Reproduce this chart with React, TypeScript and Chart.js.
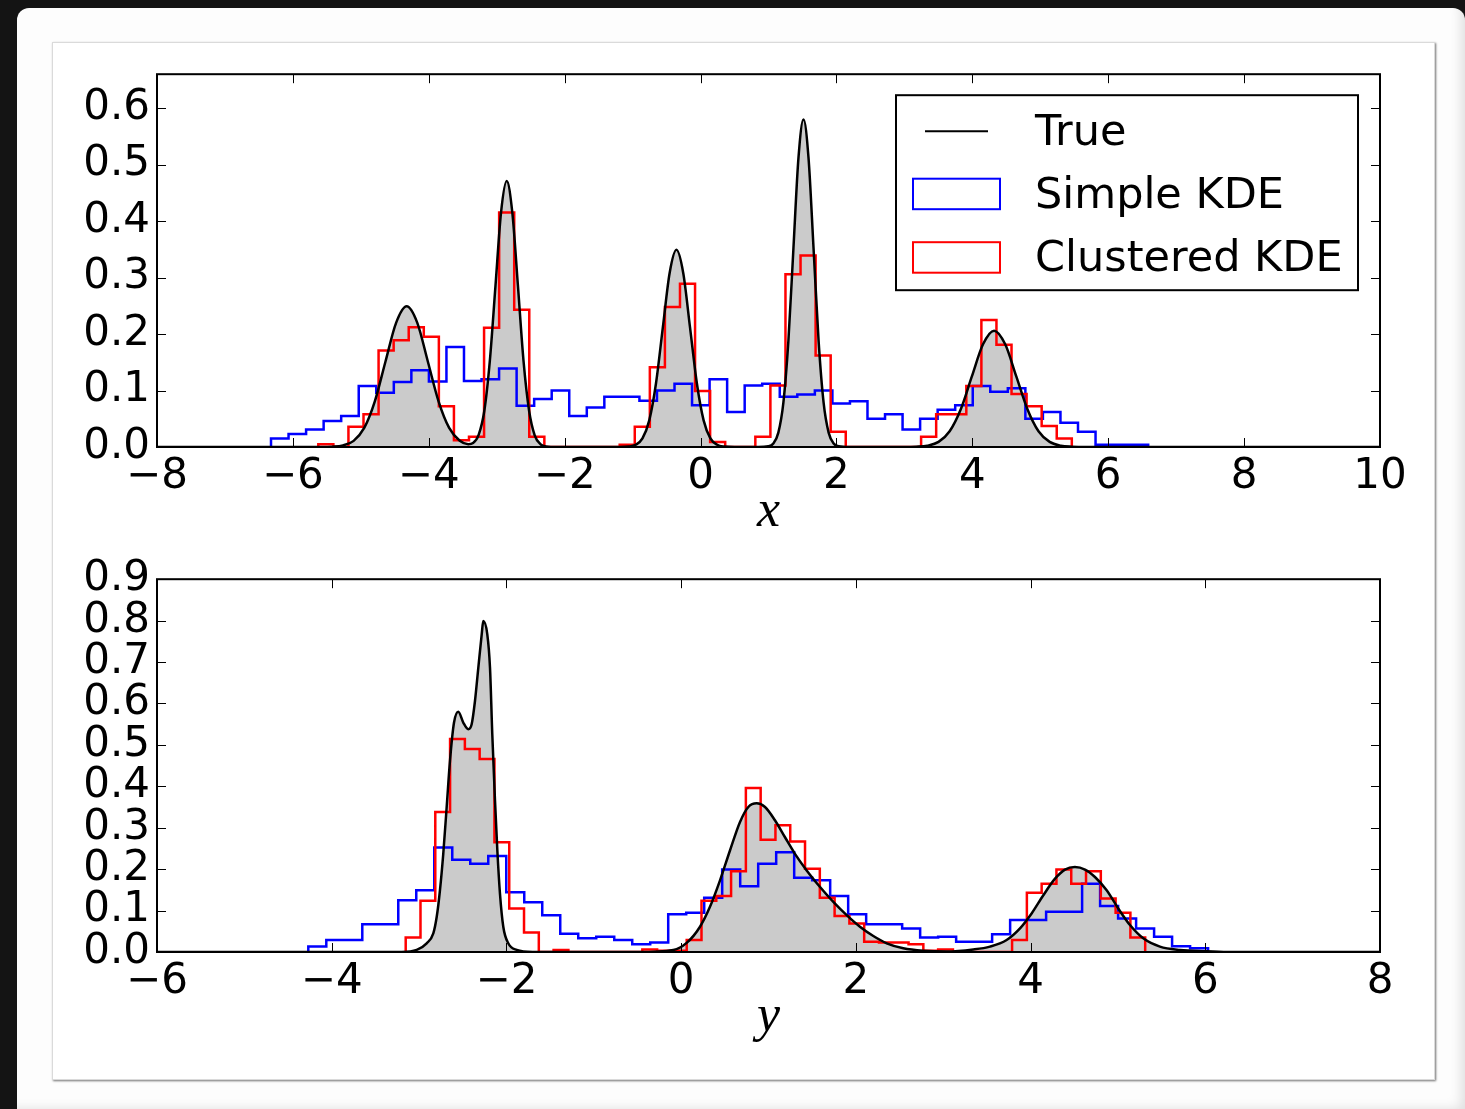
import React, { useEffect, useRef } from "react";
import { Chart, registerables } from "chart.js";

Chart.register(...registerables);

// ---------------- Top panel (x) ----------------
const X_TICKS_TOP = [-8, -6, -4, -2, 0, 2, 4, 6, 8, 10];
const Y_TICKS_TOP = [0, 0.1, 0.2, 0.3, 0.4, 0.5, 0.6];
const X_MIN_TOP = -8;
const X_MAX_TOP = 10;
const Y_MAX_TOP = 0.66;

const TRUE_TOP_X = [
  -8, -5.6, -5.419, -5.263, -5.106, -4.95, -4.794, -4.638, -4.481, -4.325, -4.169, -4.013, -3.856, -3.7, -3.544,
  -3.42, -3.348, -3.266, -3.183, -3.101, -3.018, -2.936, -2.853, -2.771, -2.688, -2.606, -2.523, -2.441, -2.358,
  -2.276, -2.1, -1.2, -1.055, -0.955, -0.855, -0.755, -0.655, -0.555, -0.455, -0.355, -0.255, -0.155, -0.055,
  0.045, 0.145, 0.245, 0.345, 0.5, 0.85, 0.997, 1.071, 1.145, 1.219, 1.293, 1.367, 1.441, 1.515, 1.589, 1.663,
  1.737, 1.811, 1.885, 1.959, 2.033, 2.2, 3.0, 3.176, 3.339, 3.503, 3.666, 3.83, 3.993, 4.157, 4.32, 4.484, 4.647,
  4.811, 4.974, 5.138, 5.301, 5.465, 5.7, 10,
];
const TRUE_TOP_Y = [
  0, 0, 0.0005, 0.0028, 0.0109, 0.0337, 0.0808, 0.151, 0.2197, 0.249, 0.2197, 0.151, 0.0808, 0.0337, 0.011,
  0.005, 0.0071, 0.0215, 0.0637, 0.153, 0.2857, 0.4157, 0.471, 0.4157, 0.2857, 0.153, 0.0637, 0.0207, 0.0052,
  0.001, 0, 0, 0.0008, 0.0039, 0.0153, 0.0472, 0.1133, 0.2117, 0.308, 0.349, 0.308, 0.2117, 0.1133,
  0.0472, 0.0153, 0.0039, 0.0008, 0, 0, 0.0013, 0.0064, 0.0255, 0.0785, 0.1883, 0.3518, 0.5119, 0.58, 0.5119, 0.3518,
  0.1883, 0.0785, 0.0255, 0.0064, 0.0013, 0, 0, 0.0005, 0.0023, 0.009, 0.0279, 0.0669, 0.1249, 0.1818, 0.206, 0.1818, 0.1249,
  0.0669, 0.0279, 0.009, 0.0023, 0.0005, 0, 0,
];

const SIMPLE_TOP_START = -6.322;
const SIMPLE_TOP_WIDTH = 0.2582;
const SIMPLE_TOP = [
  0.015, 0.023, 0.031, 0.046, 0.055, 0.108, 0.096, 0.115, 0.136, 0.116,
  0.177, 0.117, 0.12, 0.139, 0.073, 0.085, 0.1, 0.055, 0.07, 0.089,
  0.089, 0.082, 0.1, 0.112, 0.074, 0.12, 0.062, 0.109, 0.112, 0.089,
  0.093, 0.1, 0.077, 0.081, 0.05, 0.058, 0.031, 0.05, 0.066, 0.074,
  0.108, 0.098, 0.104, 0.05, 0.062, 0.043, 0.027, 0.004, 0.004, 0.004,
];

const CLUSTERED_TOP_START = -5.626;
const CLUSTERED_TOP_WIDTH = 0.2218;
const CLUSTERED_TOP = [
  0.005, 0, 0.036, 0.058, 0.171, 0.189, 0.212, 0.195, 0.072, 0.012,
  0.018, 0.211, 0.415, 0.243, 0.018, 0, 0, 0, 0, 0,
  0.004, 0.036, 0.141, 0.248, 0.289, 0.099, 0.009, 0, 0, 0.018,
  0.109, 0.306, 0.339, 0.162, 0.027, 0, 0, 0, 0, 0,
  0.018, 0.058, 0.058, 0.108, 0.225, 0.181, 0.094, 0.072, 0.037, 0.015,
];

// ---------------- Bottom panel (y) ----------------
const X_TICKS_BOTTOM = [-6, -4, -2, 0, 2, 4, 6, 8];
const Y_TICKS_BOTTOM = [0, 0.1, 0.2, 0.3, 0.4, 0.5, 0.6, 0.7, 0.8, 0.9];
const X_MIN_BOTTOM = -6;
const X_MAX_BOTTOM = 8;
const Y_MAX_BOTTOM = 0.9;

const TRUE_BOTTOM_X = [
  -6, -3.2, -3.027, -2.913, -2.837, -2.798, -2.761, -2.723, -2.684, -2.646, -2.6, -2.551, -2.494, -2.437, -2.398,
  -2.36, -2.322, -2.283, -2.265, -2.219, -2.188, -2.162, -2.131, -2.104, -2.074, -2.036, -1.979, -1.883, -1.7, -0.5,
  -0.09, 0.063, 0.216, 0.33, 0.445, 0.559, 0.674, 0.769, 0.865, 0.96, 1.074, 1.189, 1.303, 1.437, 1.59, 1.742, 1.895,
  2.047, 2.2, 2.353, 2.543, 2.772, 3.04, 3.344, 3.535, 3.726, 3.879, 4.012, 4.146, 4.28, 4.394, 4.508, 4.623, 4.737,
  4.871, 5.004, 5.138, 5.29, 5.481, 5.71, 6.016, 6.3, 8,
];
const TRUE_BOTTOM_Y = [
  0, 0, 0.005, 0.021, 0.045, 0.085, 0.149, 0.237, 0.35, 0.462, 0.554, 0.58, 0.554, 0.538, 0.55,
  0.606, 0.686, 0.767, 0.799, 0.767, 0.686, 0.526, 0.366, 0.245, 0.141, 0.061, 0.021, 0.005, 0, 0,
  0.005, 0.022, 0.061, 0.109, 0.173, 0.245, 0.314, 0.35, 0.359, 0.35, 0.318, 0.277, 0.237, 0.197, 0.157, 0.121, 0.089,
  0.061, 0.0385, 0.021, 0.009, 0.003, 0.001, 0.006, 0.013, 0.029, 0.057, 0.093, 0.137, 0.177, 0.199, 0.205, 0.199, 0.181,
  0.149, 0.105, 0.065, 0.033, 0.013, 0.005, 0.002, 0, 0,
];

const SIMPLE_BOTTOM_START = -4.268;
const SIMPLE_BOTTOM_WIDTH = 0.206;
const SIMPLE_BOTTOM = [
  0.013, 0.029, 0.029, 0.067, 0.067, 0.125, 0.149, 0.252, 0.223, 0.213,
  0.232, 0.144, 0.12, 0.089, 0.044, 0.033, 0.037, 0.029, 0.019, 0.023,
  0.091, 0.095, 0.131, 0.199, 0.159, 0.213, 0.241, 0.179, 0.173, 0.135,
  0.091, 0.067, 0.067, 0.057, 0.035, 0.037, 0.025, 0.025, 0.043, 0.077,
  0.077, 0.097, 0.097, 0.165, 0.111, 0.081, 0.057, 0.037, 0.014, 0.009,
];

const CLUSTERED_BOTTOM_START = -3.153;
const CLUSTERED_BOTTOM_WIDTH = 0.1693;
const CLUSTERED_BOTTOM = [
  0.035, 0.124, 0.338, 0.514, 0.49, 0.466, 0.265, 0.105, 0.047, 0,
  0.005, 0, 0, 0, 0, 0, 0.006, 0.003, 0.003, 0.029,
  0.124, 0.135, 0.195, 0.396, 0.271, 0.306, 0.267, 0.201, 0.131, 0.087,
  0.069, 0.025, 0.023, 0.023, 0.019, 0.003, 0.006, 0, 0, 0,
  0, 0.029, 0.143, 0.165, 0.199, 0.165, 0.195, 0.129, 0.095, 0.035,
];

const LEGEND_LABELS = ["True", "Simple KDE", "Clustered KDE"];

// ---------------- helpers ----------------
function curvePoints(xs: number[], ys: number[]) {
  const n = Math.min(xs.length, ys.length);
  const pts: { x: number; y: number }[] = [];
  for (let i = 0; i < n; i++) pts.push({ x: xs[i], y: ys[i] });
  return pts;
}

function histPoints(start: number, width: number, values: number[]) {
  const pts: { x: number; y: number }[] = [{ x: start, y: 0 }];
  values.forEach((v, i) => pts.push({ x: start + i * width, y: v }));
  const end = start + values.length * width;
  pts.push({ x: end, y: values[values.length - 1] });
  pts.push({ x: end, y: 0 });
  return pts;
}

function fmt(v: number, digits: number) {
  const s = Math.abs(v).toFixed(digits);
  return (v < -1e-9 ? "\u2212" : "") + s;
}

const TICK_FONT = { family: "'DejaVu Sans'", size: 42 };

const mplPlugin = {
  id: "mplFrame",
  afterDatasetsDraw(chart: any, _args: any, opts: any) {
    const { ctx, chartArea: a } = chart;
    const sx = chart.scales.x;
    const sy = chart.scales.y;
    ctx.save();
    ctx.strokeStyle = "#000";
    ctx.lineWidth = 1;
    ctx.beginPath();
    for (const t of opts.xTicks) {
      const p = Math.round(sx.getPixelForValue(t)) + 0.5;
      ctx.moveTo(p, a.bottom);
      ctx.lineTo(p, a.bottom - 9);
      ctx.moveTo(p, a.top);
      ctx.lineTo(p, a.top + 9);
    }
    for (const t of opts.yTicks) {
      const p = Math.round(sy.getPixelForValue(t)) + 0.5;
      ctx.moveTo(a.left, p);
      ctx.lineTo(a.left + 9, p);
      ctx.moveTo(a.right, p);
      ctx.lineTo(a.right - 9, p);
    }
    ctx.stroke();
    ctx.lineWidth = 2;
    ctx.strokeRect(a.left, a.top, a.right - a.left, a.bottom - a.top);

    // axis title
    ctx.fillStyle = "#000";
    ctx.font = "italic 52px 'Liberation Serif'";
    ctx.textAlign = "center";
    ctx.textBaseline = "alphabetic";
    ctx.fillText(opts.title, (a.left + a.right) / 2, a.bottom + 79);

    if (opts.legend) {
      const bx = a.right - 484;
      const by = a.top + 21;
      const bw = 462;
      const bh = 195;
      ctx.fillStyle = "#fff";
      ctx.fillRect(bx, by, bw, bh);
      ctx.lineWidth = 2;
      ctx.strokeStyle = "#000";
      ctx.strokeRect(bx, by, bw, bh);
      ctx.beginPath();
      ctx.moveTo(bx + 29, by + 36);
      ctx.lineTo(bx + 92, by + 36);
      ctx.stroke();
      ctx.strokeStyle = "#0000ff";
      ctx.strokeRect(bx + 17, by + 83.5, 87, 30.5);
      ctx.strokeStyle = "#ff0000";
      ctx.strokeRect(bx + 17, by + 147, 87, 30.5);
      ctx.fillStyle = "#000";
      ctx.font = "43px 'DejaVu Sans'";
      ctx.textAlign = "left";
      ctx.textBaseline = "alphabetic";
      const baselines = [50, 113, 176];
      LEGEND_LABELS.forEach((lab, i) => ctx.fillText(lab, bx + 139, by + baselines[i]));
    }
    ctx.restore();
  },
};

function buildConfig(p: {
  trueX: number[];
  trueY: number[];
  simpleStart: number;
  simpleWidth: number;
  simple: number[];
  clusteredStart: number;
  clusteredWidth: number;
  clustered: number[];
  xMin: number;
  xMax: number;
  yMax: number;
  xTicks: number[];
  yTicks: number[];
  title: string;
  legend: boolean;
}): any {
  return {
    type: "line",
    data: {
      datasets: [
        {
          label: LEGEND_LABELS[0],
          data: curvePoints(p.trueX, p.trueY),
          borderColor: "#000000",
          borderWidth: 2.5,
          backgroundColor: "#cbcbcb",
          fill: "origin",
          pointRadius: 0,
          cubicInterpolationMode: "monotone",
        },
        {
          label: LEGEND_LABELS[2],
          data: histPoints(p.clusteredStart, p.clusteredWidth, p.clustered),
          borderColor: "#ff0000",
          borderWidth: 2.5,
          fill: false,
          pointRadius: 0,
          stepped: "before",
        },
        {
          label: LEGEND_LABELS[1],
          data: histPoints(p.simpleStart, p.simpleWidth, p.simple),
          borderColor: "#0000ff",
          borderWidth: 2.5,
          fill: false,
          pointRadius: 0,
          stepped: "before",
        },
      ],
    },
    options: {
      responsive: false,
      animation: false,
      devicePixelRatio: 1,
      events: [],
      layout: { padding: { left: 0, right: 55, top: 31, bottom: 0 } },
      plugins: {
        legend: { display: false },
        tooltip: { enabled: false },
        filler: { drawTime: "beforeDatasetsDraw" },
        mplFrame: { xTicks: p.xTicks, yTicks: p.yTicks, title: p.title, legend: p.legend },
      },
      scales: {
        x: {
          type: "linear",
          min: p.xMin,
          max: p.xMax,
          afterFit: (s: any) => {
            s.height = 95;
          },
          afterBuildTicks: (s: any) => {
            s.ticks = p.xTicks.map((v) => ({ value: v }));
          },
          grid: { display: false, drawTicks: false },
          border: { display: false },
          ticks: {
            color: "#000",
            font: TICK_FONT,
            padding: 5,
            maxRotation: 0,
            autoSkip: false,
            callback: (v: number) => fmt(v, 0),
          },
        },
        y: {
          type: "linear",
          min: 0,
          max: p.yMax,
          afterFit: (s: any) => {
            s.width = 105;
          },
          afterBuildTicks: (s: any) => {
            s.ticks = p.yTicks.map((v) => ({ value: v }));
          },
          grid: { display: false, drawTicks: false },
          border: { display: false },
          ticks: {
            color: "#000",
            font: TICK_FONT,
            padding: 7,
            autoSkip: false,
            callback: (v: number) => fmt(v, 1),
          },
        },
      },
    },
    plugins: [mplPlugin],
  };
}

export default function App() {
  const topRef = useRef<HTMLCanvasElement>(null);
  const botRef = useRef<HTMLCanvasElement>(null);

  useEffect(() => {
    const c1 = new Chart(
      topRef.current as HTMLCanvasElement,
      buildConfig({
        trueX: TRUE_TOP_X,
        trueY: TRUE_TOP_Y,
        simpleStart: SIMPLE_TOP_START,
        simpleWidth: SIMPLE_TOP_WIDTH,
        simple: SIMPLE_TOP,
        clusteredStart: CLUSTERED_TOP_START,
        clusteredWidth: CLUSTERED_TOP_WIDTH,
        clustered: CLUSTERED_TOP,
        xMin: X_MIN_TOP,
        xMax: X_MAX_TOP,
        yMax: Y_MAX_TOP,
        xTicks: X_TICKS_TOP,
        yTicks: Y_TICKS_TOP,
        title: "x",
        legend: true,
      })
    );
    const c2 = new Chart(
      botRef.current as HTMLCanvasElement,
      buildConfig({
        trueX: TRUE_BOTTOM_X,
        trueY: TRUE_BOTTOM_Y,
        simpleStart: SIMPLE_BOTTOM_START,
        simpleWidth: SIMPLE_BOTTOM_WIDTH,
        simple: SIMPLE_BOTTOM,
        clusteredStart: CLUSTERED_BOTTOM_START,
        clusteredWidth: CLUSTERED_BOTTOM_WIDTH,
        clustered: CLUSTERED_BOTTOM,
        xMin: X_MIN_BOTTOM,
        xMax: X_MAX_BOTTOM,
        yMax: Y_MAX_BOTTOM,
        xTicks: X_TICKS_BOTTOM,
        yTicks: Y_TICKS_BOTTOM,
        title: "y",
        legend: false,
      })
    );
    return () => {
      c1.destroy();
      c2.destroy();
    };
  }, []);

  return (
    <div
      style={{
        position: "fixed",
        left: 0,
        top: 0,
        width: 1465,
        height: 1109,
        background: "#141414",
        overflow: "hidden",
      }}
    >
      <div
        style={{
          position: "absolute",
          left: 17,
          top: 8,
          width: 1448,
          height: 1101,
          background: "#fdfdfd",
          borderTopLeftRadius: 12,
          borderTopRightRadius: 12,
          boxShadow: "inset -14px -10px 12px -10px rgba(0,0,0,0.12)",
        }}
      />
      <div
        style={{
          position: "absolute",
          left: 52,
          top: 42,
          width: 1383,
          height: 1038,
          boxSizing: "border-box",
          background: "#ffffff",
          border: "1px solid #dadada",
          boxShadow: "1px 1px 2px rgba(0,0,0,0.55)",
        }}
      />
      <canvas
        ref={topRef}
        width={1383}
        height={500}
        style={{ position: "absolute", left: 52, top: 42, width: 1383, height: 500 }}
      />
      <canvas
        ref={botRef}
        width={1383}
        height={500}
        style={{ position: "absolute", left: 52, top: 547, width: 1383, height: 500 }}
      />
    </div>
  );
}
